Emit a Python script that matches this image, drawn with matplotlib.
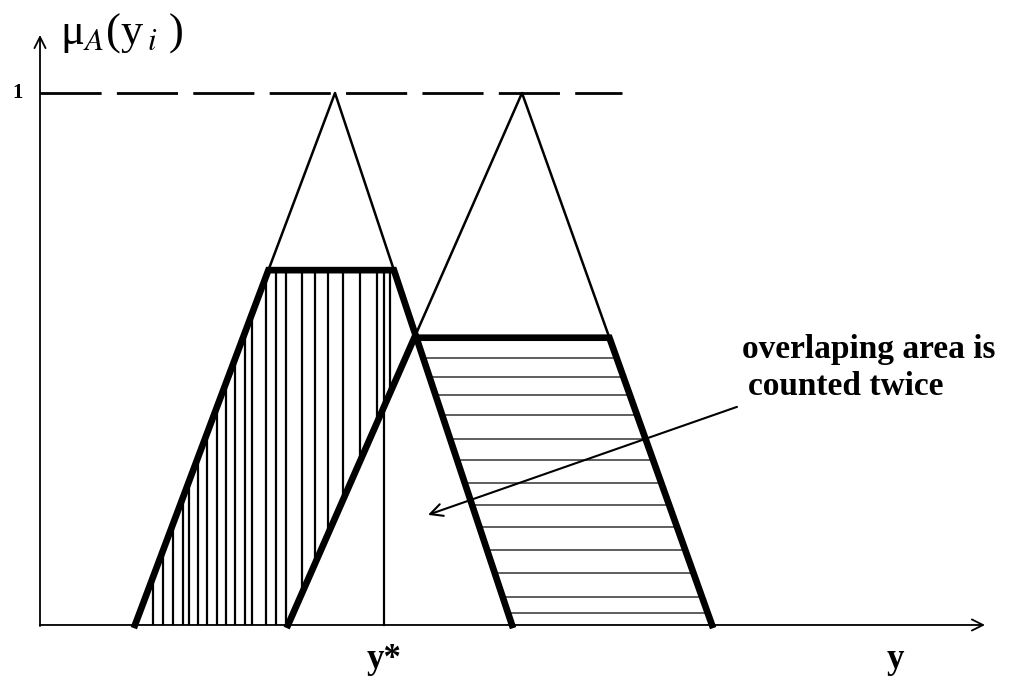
import numpy as np
import matplotlib
matplotlib.use("Agg")
import matplotlib.pyplot as plt

plt.rcParams['mathtext.fontset'] = 'stix'
serif = ['Liberation Serif', 'DejaVu Serif']

# triangular membership functions: (left foot, peak, right foot) and clip level
tri1 = (0.95, 2.95, 4.72)
cut1 = 0.667
tri2 = (2.48, 4.82, 6.72)
cut2 = 0.54
y_star = 3.44

# hatch positions
vhatch_x = [1.13, 1.23, 1.33, 1.43, 1.49, 1.58, 1.67, 1.77, 1.86, 1.95, 2.05,
            2.12, 2.26, 2.36, 2.46, 2.62, 2.75, 2.88, 3.03, 3.20, 3.37, 3.50]
hhatch_y = [0.502, 0.466, 0.432, 0.395, 0.350, 0.310, 0.267, 0.226, 0.184,
            0.141, 0.098, 0.053, 0.023]

x_end, y_end = 9.45, 1.109
dash_end = 5.82


def rise(t, x):
    return (x - t[0]) / (t[1] - t[0])


def fall_x(t, y):
    # x on the falling side at height y
    return t[2] - y * (t[2] - t[1])


def rise_x(t, y):
    return t[0] + y * (t[1] - t[0])


fig = plt.figure(figsize=(10.11, 6.81), dpi=100)
ax = fig.add_axes([0, 0, 1, 1])
ax.set_xlim(-0.40, 9.71)
ax.set_ylim(-0.1053, 1.1748)
ax.axis('off')

# vertical hatching inside the first clipped set (above the second's rising edge)
for x in vhatch_x:
    top = min(rise(tri1, x), cut1, (tri1[2] - x) / (tri1[2] - tri1[1]))
    bot = max(0.0, rise(tri2, x))
    if top > bot:
        ax.plot([x, x], [bot, top], color='black', lw=1.6, solid_capstyle='butt')
ax.plot([y_star, y_star], [0, cut1], color='black', lw=1.6)

# horizontal hatching inside the second clipped set
for y in hhatch_y:
    ax.plot([fall_x(tri1, y), fall_x(tri2, y)], [y, y], color='#333333', lw=1.1)

# thin full triangles above the clip levels
for t, c in ((tri1, cut1), (tri2, cut2)):
    ax.plot([rise_x(t, c), t[1], fall_x(t, c)], [c, 1, c], color='black', lw=1.8)

# thick outlines of the clipped sets
ax.plot([tri1[0], rise_x(tri1, cut1), fall_x(tri1, cut1), tri1[2]],
        [0, cut1, cut1, 0], color='black', lw=4.8, solid_joinstyle='miter')
ax.plot([tri2[0], rise_x(tri2, cut2), fall_x(tri2, cut2), tri2[2]],
        [0, cut2, cut2, 0], color='black', lw=4.8, solid_joinstyle='miter')

# dashed level 1
ax.plot([0, dash_end], [1, 1], color='black', lw=2, linestyle=(0, (22, 5.5)))

# axes with arrows
ax.annotate('', xy=(0, y_end), xytext=(0, -0.002),
            arrowprops=dict(arrowstyle='->', lw=1.3, color='black', mutation_scale=20,
                            shrinkA=0, shrinkB=0))
ax.annotate('', xy=(x_end, 0), xytext=(0, 0),
            arrowprops=dict(arrowstyle='->', lw=1.3, color='black', mutation_scale=20,
                            shrinkA=0, shrinkB=0))

# labels
ax.text(-0.22, 1.0, '1', family=serif, weight='bold', fontsize=15, ha='center', va='center')
ax.text(0.20, 1.112, r'μ$_A$(y$_{\,i}$ )', family=serif, fontsize=32, ha='left', va='center')
ax.text(y_star, -0.065, 'y*', family=serif, weight='bold', fontsize=25, ha='center', va='center')
ax.text(8.55, -0.065, 'y', family=serif, weight='bold', fontsize=25, ha='center', va='center')
ax.text(7.02, 0.502, 'overlaping area is', family=serif, weight='bold', fontsize=24,
        ha='left', va='baseline')
ax.text(7.08, 0.432, 'counted twice', family=serif, weight='bold', fontsize=24,
        ha='left', va='baseline')
ax.annotate('', xy=(3.88, 0.207), xytext=(6.97, 0.410),
            arrowprops=dict(arrowstyle='->', lw=1.5, color='black', mutation_scale=22,
                            shrinkA=0, shrinkB=0))

fig.savefig('out.png', dpi=100)
